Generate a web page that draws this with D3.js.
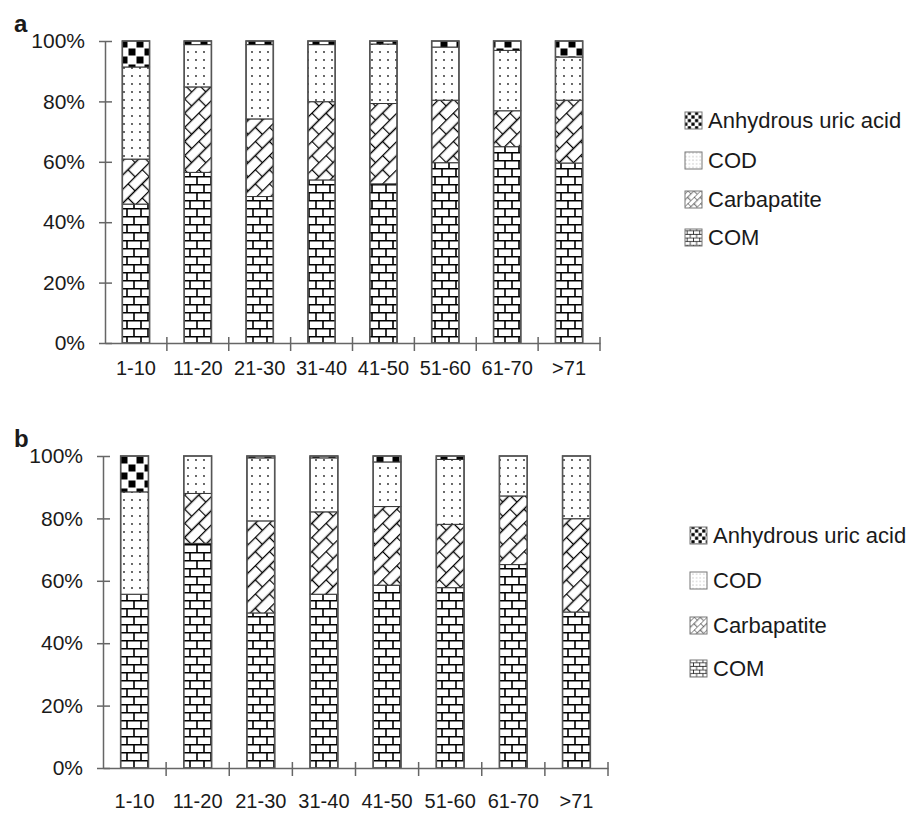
<!DOCTYPE html>
<html>
<head>
<meta charset="utf-8">
<script src="https://cdn.jsdelivr.net/npm/d3@7"></script>
<style>
  body { margin: 0; background: #fff; }
  text { font-family: "Liberation Sans", Arial, Helvetica, sans-serif; fill: #1a1a1a; }
</style>
</head>
<body>
<svg id="svg" width="922" height="813"></svg>
<script>
const ageGroups = ["1-10", "11-20", "21-30", "31-40", "41-50", "51-60", "61-70", ">71"]
const keys = ["COM", "Carbapatite", "COD", "Anhydrous uric acid"]
const legendOrder = ["Anhydrous uric acid", "COD", "Carbapatite", "COM"]
const yTicks = [0, 20, 40, 60, 80, 100]

// panel a (percent of stones)
const comA = [46, 56.5, 48.5, 54, 52.7, 59.7, 65, 59.6]
const carbA = [14.9, 28.3, 25.7, 25.9, 26.6, 20.7, 11.9, 20.8]
const codA = [30.5, 14, 24.6, 18.9, 19.7, 17.6, 20, 14.3]
const uricA = [8.6, 1.2, 1.2, 1.2, 1, 2, 3.1, 5.3]

// panel b
const comB = [55.7, 72, 49.7, 55.7, 58.6, 57.8, 65.2, 50]
const carbB = [0, 16, 29.5, 26.4, 25.2, 20.3, 22, 29.9]
const codB = [32.8, 12, 20.2, 17.3, 14.3, 20.8, 12.8, 20.1]
const uricB = [11.5, 0, 0.6, 0.6, 1.9, 1.1, 0, 0]

function rows(com, carb, cod, uric) {
  return ageGroups.map((g, i) => ({
    group: g, "COM": com[i], "Carbapatite": carb[i], "COD": cod[i], "Anhydrous uric acid": uric[i]
  }))
}

const svg = d3.select('#svg')
const defs = svg.append('defs')

function makePatterns(suffix, scale) {
  // brick (COM)
  let p = defs.append('pattern').attr('id', 'com' + suffix)
    .attr('patternUnits', 'userSpaceOnUse').attr('width', 14).attr('height', 16)
    .attr('patternTransform', `scale(${scale})`)
  p.append('rect').attr('width', 14).attr('height', 16).attr('fill', '#fff')
  p.append('path').attr('d', 'M0,0.8H14M0,8.8H14M1,0V8.8M8,8.8V16')
    .attr('stroke', '#000').attr('stroke-width', 1.6).attr('fill', 'none')

  // diagonal brick (Carbapatite)
  p = defs.append('pattern').attr('id', 'carb' + suffix)
    .attr('patternUnits', 'userSpaceOnUse').attr('width', 20).attr('height', 20)
    .attr('patternTransform', `scale(${scale}) rotate(-45)`)
  p.append('rect').attr('width', 20).attr('height', 20).attr('fill', '#fff')
  p.append('path').attr('d', 'M0,0.5H20M0,10.5H20M0.5,0V10.5M10.5,10.5V20')
    .attr('stroke', '#000').attr('stroke-width', 1.3).attr('fill', 'none')

  // dots (COD)
  p = defs.append('pattern').attr('id', 'cod' + suffix)
    .attr('patternUnits', 'userSpaceOnUse').attr('width', 8).attr('height', 8)
    .attr('patternTransform', `scale(${scale})`)
  p.append('rect').attr('width', 8).attr('height', 8).attr('fill', '#fff')
  p.append('circle').attr('cx', 4).attr('cy', 4).attr('r', 0.9).attr('fill', '#222')

  // checkerboard (Anhydrous uric acid)
  p = defs.append('pattern').attr('id', 'uric' + suffix)
    .attr('patternUnits', 'userSpaceOnUse').attr('width', 16).attr('height', 16)
    .attr('patternTransform', `scale(${scale})`)
  p.append('rect').attr('width', 16).attr('height', 16).attr('fill', '#fff')
  p.append('rect').attr('x', 0.5).attr('y', 0.5).attr('width', 7).attr('height', 7).attr('fill', '#000')
  p.append('rect').attr('x', 8.5).attr('y', 8.5).attr('width', 7).attr('height', 7).attr('fill', '#000')
}
makePatterns('', 1)
makePatterns('L', 0.45)

const fillId = {"COM": "com", "Carbapatite": "carb", "COD": "cod", "Anhydrous uric acid": "uric"}

function drawPanel(cfg) {
  const data = rows(...cfg.values)
  const x = d3.scaleBand().domain(ageGroups).range([cfg.x0, cfg.x1]).paddingInner(0.56).paddingOuter(0.28)
  const y = d3.scaleLinear().domain([0, 100]).range([cfg.yBottom, cfg.yTop])
  const stacked = d3.stack().keys(keys)(data)

  const g = svg.append('g')

  g.selectAll('g.layer')
    .data(stacked)
    .enter()
    .append('g')
    .attr('class', 'layer')
    .attr('fill', d => `url(#${fillId[d.key]})`)
    .selectAll('rect')
    .data(d => d.filter(s => s[1] - s[0] > 0))
    .enter()
    .append('rect')
    .attr('x', d => x(d.data.group))
    .attr('width', x.bandwidth())
    .attr('y', d => y(d[1]))
    .attr('height', d => y(d[0]) - y(d[1]))
    .attr('stroke', '#333')
    .attr('stroke-width', 1)

  // bar outlines
  g.selectAll('rect.outline')
    .data(data)
    .enter()
    .append('rect')
    .attr('class', 'outline')
    .attr('x', d => x(d.group))
    .attr('width', x.bandwidth())
    .attr('y', y(100))
    .attr('height', y(0) - y(100))
    .attr('fill', 'none')
    .attr('stroke', '#555')
    .attr('stroke-width', 1.6)

  // y axis
  const yAxis = g.append('g')
    .attr('transform', `translate(${cfg.x0},0)`)
    .call(d3.axisLeft(y).tickValues(yTicks).tickFormat(d => d + '%').tickSizeOuter(0).tickPadding(14))
  yAxis.select('.domain').attr('stroke', '#666').attr('stroke-width', 1.5)
  yAxis.selectAll('.tick line').attr('x1', 7).attr('x2', -6).attr('stroke', '#666').attr('stroke-width', 1.5)
  yAxis.selectAll('.tick text').attr('font-size', 21).attr('font-family', '"Liberation Sans", Arial, sans-serif').attr('fill', '#1a1a1a')

  // x axis
  const xAxis = g.append('g')
    .attr('transform', `translate(0,${cfg.yBottom})`)
    .call(d3.axisBottom(x).tickSize(0).tickPadding(cfg.labelPad))
  xAxis.select('.domain').attr('stroke', '#666').attr('stroke-width', 1.5)
  xAxis.selectAll('.tick text').attr('font-size', 20).attr('font-family', '"Liberation Sans", Arial, sans-serif').attr('fill', '#1a1a1a')
  const step = x.step()
  xAxis.selectAll('line.sep')
    .data(d3.range(1, ageGroups.length + 1))
    .enter()
    .append('line')
    .attr('class', 'sep')
    .attr('x1', i => cfg.x0 + i * step)
    .attr('x2', i => cfg.x0 + i * step)
    .attr('y1', -6)
    .attr('y2', 8)
    .attr('stroke', '#666')
    .attr('stroke-width', 1.5)

  // panel letter
  svg.append('text')
    .attr('x', 14).attr('y', cfg.yTop - 9)
    .attr('font-size', 24).attr('font-weight', 'bold')
    .text(cfg.letter)

  // legend
  const leg = svg.append('g')
  legendOrder.forEach((k, i) => {
    const ly = cfg.legendY[i]
    leg.append('rect')
      .attr('x', cfg.legendX).attr('y', ly - 8)
      .attr('width', 17).attr('height', 17)
      .attr('fill', `url(#${fillId[k]}L)`)
      .attr('stroke', '#777').attr('stroke-width', 1)
    leg.append('text')
      .attr('x', cfg.legendX + 23).attr('y', ly)
      .attr('dy', '0.35em')
      .attr('font-size', 22)
      .text(k)
  })
}

drawPanel({
  letter: 'a', values: [comA, carbA, codA, uricA],
  x0: 105, x1: 600, yTop: 41, yBottom: 343, labelPad: 18,
  legendX: 685, legendY: [120, 160, 199, 237]
})
drawPanel({
  letter: 'b', values: [comB, carbB, codB, uricB],
  x0: 103, x1: 608, yTop: 456, yBottom: 768, labelPad: 26,
  legendX: 690, legendY: [535, 580, 625, 668]
})
</script>
</body>
</html>
